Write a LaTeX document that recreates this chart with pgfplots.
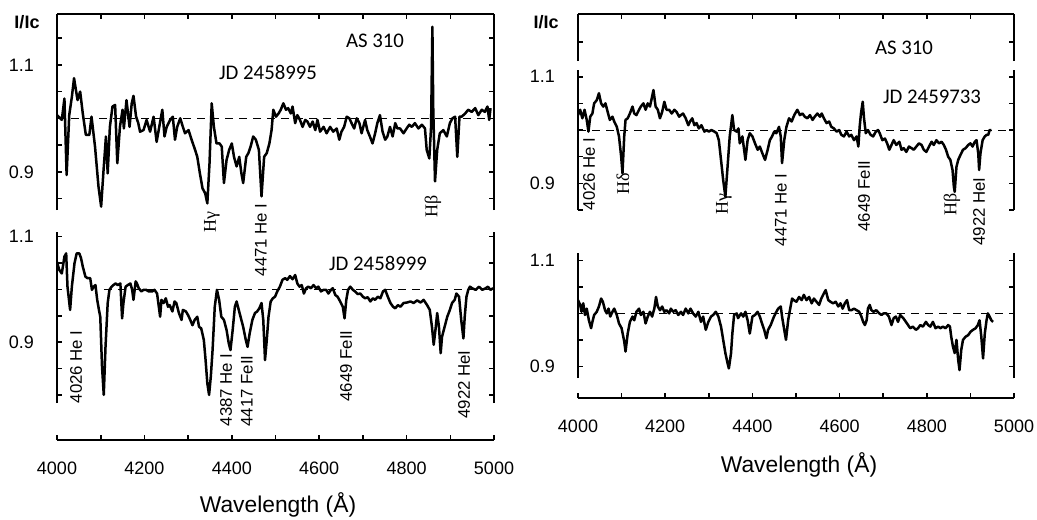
\documentclass[border=0pt]{standalone}
\usepackage{pgfplots}
\pgfplotsset{compat=1.18}
\usepackage{fontspec}
\setmainfont{Carlito}
\newfontfamily\arial{Liberation Sans}
\newfontfamily\tnr{Liberation Serif}
\begin{document}
\begin{tikzpicture}
\pgfplotsset{
 base/.style={scale only axis, xmin=4000, xmax=5000,
   axis line style={-, line width=0.9pt, black},
   tick style={black, line width=0.8pt},
   major tick length=2.6pt, minor tick length=2.6pt, tick align=inside,
   /pgf/number format/assume math mode=true, /pgf/number format/1000 sep={},
   tick label style={font=\arial\fontsize{9}{10}\selectfont},
   yticklabel style={xshift=-8pt}, yticklabel pos=left},
 spec/.style={black, line width=1.25pt, line join=round, mark=none},
 dsh/.style={black, line width=0.5pt, dash pattern=on 4pt off 3pt, mark=none},
 lw/.style={width=218.5pt},
 rw/.style={width=218pt},
}
\tikzset{
 rl/.style={rotate=90, anchor=east, inner sep=0pt, font=\arial\fontsize{8.4}{9}\selectfont},
 gr/.style={rotate=90, anchor=east, inner sep=0pt, font=\tnr\fontsize{9}{10}\selectfont},
 jd/.style={inner sep=0pt, font=\fontsize{10.4}{12}\selectfont},
}

% ---------- upper left
\begin{axis}[base, lw, at={(28.5pt,-105pt)}, anchor=south west, height=98pt,
  ymin=0.8286, ymax=1.195, axis x line*=top, axis y line*=box,
  xtick={4000,4100,...,5000}, xticklabels={},
  ytick={0.9,1.1}, minor ytick={0.85,0.95,1.0,1.05,1.15}]
\addplot[dsh] coordinates {(4000,1) (5000,1)};
\addplot[spec] table {
4000 1.006
4011 0.997
4017 1.037
4022 0.894
4028 1.006
4034 1.040
4039 1.075
4047 1.034
4053 1.050
4059 1.009
4066 0.969
4074 0.969
4079 1.003
4087 0.947
4095 0.872
4101 0.835
4106 0.897
4112 0.966
4116 0.897
4121 0.984
4127 1.022
4133 1.025
4138 0.916
4144 0.984
4150 1.016
4153 0.981
4159 1.034
4166 0.984
4171 1.028
4175 1.042
4181 1.003
4186 0.991
4190 0.975
4198 0.978
4205 0.997
4213 0.975
4221 1.003
4228 0.956
4234 0.984
4241 1.016
4246 0.966
4251 0.984
4259 0.997
4265 1.003
4270 0.960
4275 0.984
4282 1.000
4288 0.984
4293 0.972
4301 0.978
4308 0.960
4316 0.941
4321 0.928
4327 0.897
4333 0.869
4339 0.860
4344 0.841
4349 0.916
4354 1.028
4359 0.984
4365 0.953
4372 0.953
4377 0.947
4382 0.879
4388 0.922
4394 0.941
4400 0.953
4405 0.928
4411 0.910
4417 0.928
4422 0.897
4426 0.879
4433 0.928
4438 0.935
4443 0.947
4449 0.966
4455 0.960
4462 0.941
4468 0.854
4474 0.928
4480 0.935
4486 0.953
4491 0.978
4495 1.016
4501 1.003
4507 1.009
4512 1.016
4518 1.028
4524 1.016
4529 1.019
4535 1.009
4539 1.022
4545 0.991
4550 1.006
4556 0.997
4562 0.984
4568 0.997
4573 0.994
4579 0.984
4585 0.994
4591 0.978
4596 0.997
4602 0.975
4610 0.984
4617 0.972
4625 0.984
4632 0.975
4640 0.981
4646 0.960
4651 0.975
4657 0.984
4663 1.003
4669 1.000
4674 0.991
4680 0.981
4686 1.000
4692 0.991
4697 0.972
4705 0.997
4710 0.978
4716 0.966
4722 0.953
4728 0.972
4733 0.991
4739 1.006
4745 0.975
4751 0.960
4756 0.966
4762 0.984
4768 0.966
4774 0.991
4779 0.981
4785 0.981
4793 0.972
4800 0.981
4806 0.988
4812 0.984
4819 0.991
4827 0.981
4835 0.988
4842 0.981
4846 0.941
4852 0.925
4856 0.984
4859 1.171
4861 1.016
4865 0.882
4870 0.941
4876 0.972
4884 0.978
4892 0.966
4899 0.991
4905 1.000
4911 1.003
4916 0.928
4921 1.003
4926 1.003
4934 1.009
4941 1.016
4949 1.012
4957 1.019
4964 1.006
4972 1.016
4979 1.012
4985 1.022
4989 0.997
4992 1.019
};
\end{axis}

% ---------- lower left
\begin{axis}[base, lw, at={(28.5pt,-201.5pt)}, anchor=south west, height=85.5pt,
  ymin=0.7847, ymax=1.1085, axis x line=none, axis y line*=box, xtick=\empty,
  ytick={0.9,1.1}, minor ytick={0.8,0.85,0.95,1.0,1.05}]
\addplot[dsh] coordinates {(4107,1) (4995,1)};
\addplot[spec] table {
4000 1.052
4005 1.037
4011 1.030
4017 1.062
4021 1.068
4024 1.005
4030 0.961
4034 1.005
4040 1.049
4045 1.068
4051 1.068
4055 1.059
4059 1.043
4065 1.024
4070 1.021
4076 1.021
4080 0.999
4084 1.005
4088 1.008
4092 0.980
4096 0.961
4099 0.948
4103 0.854
4107 0.800
4111 0.891
4116 0.974
4120 0.999
4125 1.005
4129 1.008
4134 1.011
4139 1.008
4145 1.011
4149 0.945
4152 0.974
4157 1.005
4162 1.008
4168 1.011
4172 0.999
4175 0.980
4180 1.015
4183 1.011
4187 1.002
4193 0.996
4198 0.999
4204 0.999
4210 0.996
4218 0.996
4223 0.999
4229 0.992
4233 0.967
4236 0.948
4239 0.980
4244 0.974
4249 0.983
4254 0.967
4258 0.970
4264 0.958
4269 0.977
4273 0.974
4279 0.955
4285 0.942
4288 0.961
4295 0.958
4300 0.951
4305 0.942
4310 0.932
4315 0.942
4321 0.948
4325 0.929
4330 0.926
4336 0.904
4340 0.866
4344 0.822
4348 0.800
4352 0.835
4356 0.885
4361 0.967
4366 0.999
4371 0.980
4376 0.948
4382 0.942
4388 0.923
4393 0.898
4397 0.885
4402 0.923
4407 0.967
4411 0.977
4415 0.964
4420 0.948
4426 0.929
4432 0.904
4436 0.891
4441 0.917
4447 0.942
4453 0.955
4458 0.958
4463 0.964
4468 0.974
4472 0.942
4476 0.866
4480 0.904
4484 0.948
4489 0.977
4494 0.983
4499 0.986
4504 0.996
4510 1.005
4516 1.018
4522 1.021
4527 1.018
4533 1.025
4539 1.019
4545 1.027
4550 1.011
4555 1.005
4560 1.008
4565 0.992
4570 1.002
4575 1.005
4581 1.002
4587 1.008
4593 1.002
4598 1.005
4604 0.996
4610 0.999
4616 0.999
4621 0.992
4627 0.999
4631 1.002
4637 0.989
4642 0.986
4648 0.977
4654 0.967
4658 0.945
4662 0.980
4666 0.999
4671 1.005
4677 0.999
4682 0.996
4688 0.991
4694 0.992
4700 0.986
4705 0.983
4711 0.985
4717 0.977
4723 0.983
4728 0.980
4734 0.986
4740 0.983
4746 0.996
4751 0.999
4757 0.986
4763 0.974
4769 0.967
4774 0.964
4780 0.970
4786 0.967
4793 0.974
4801 0.975
4809 0.977
4816 0.974
4824 0.979
4832 0.975
4839 0.980
4847 0.970
4853 0.961
4858 0.929
4862 0.895
4866 0.923
4870 0.955
4874 0.929
4878 0.879
4881 0.910
4887 0.929
4893 0.948
4899 0.961
4904 0.974
4910 0.980
4914 0.992
4920 0.986
4925 0.942
4930 0.907
4933 0.948
4937 0.986
4941 0.999
4945 1.005
4950 1.002
4958 0.999
4966 1.005
4973 0.999
4981 1.002
4986 1.005
4992 0.999
4998 1.002
};
\end{axis}

% ---------- left bottom axis
\begin{axis}[base, lw, at={(28.5pt,-220pt)}, anchor=south west, height=5pt,
  ymin=0, ymax=1, axis x line*=bottom, axis y line=none, ytick=\empty,
  xtick={4000,4200,...,5000}, minor xtick={4100,4300,...,4900},
  xticklabel style={yshift=-7.5pt}]
\end{axis}

% ---------- upper right top box
\begin{axis}[base, rw, at={(289pt,-30.5pt)}, anchor=south west, height=23.5pt,
  ymin=0, ymax=1, axis x line*=top, axis y line*=box,
  xtick={4000,4100,...,5000}, xticklabels={}, ytick={0.4}, yticklabels={}]
\end{axis}

% ---------- upper right data
\begin{axis}[base, rw, at={(289pt,-105pt)}, anchor=south west, height=70pt,
  ymin=0.85, ymax=1.1126, axis x line=none, axis y line*=box, xtick=\empty,
  ytick={0.9,1.1}, minor ytick={0.85,0.95,1.0,1.05}]
\addplot[dsh] coordinates {(4000,1) (5000,1)};
\addplot[spec] table {
4000 1.028
4005 1.038
4010 1.022
4015 1.038
4020 1.019
4024 0.997
4028 1.025
4033 1.031
4037 1.050
4043 1.056
4048 1.069
4053 1.050
4058 1.044
4063 1.050
4068 1.034
4073 1.019
4079 1.025
4083 1.016
4089 1.006
4094 0.988
4099 0.950
4102 0.919
4106 0.988
4109 1.019
4114 1.022
4119 1.031
4125 1.044
4129 1.031
4134 1.028
4140 1.038
4144 1.044
4150 1.050
4155 1.038
4160 1.050
4165 1.044
4169 1.059
4173 1.075
4178 1.044
4183 1.038
4188 1.022
4193 1.034
4198 1.053
4203 1.038
4209 1.038
4215 1.031
4221 1.038
4226 1.034
4232 1.025
4236 1.028
4241 1.031
4247 1.022
4253 1.009
4257 1.016
4262 1.022
4267 1.009
4272 1.013
4277 1.003
4283 1.009
4290 0.997
4295 1.000
4300 0.997
4306 1.000
4313 0.997
4318 0.994
4323 0.981
4328 0.944
4333 0.906
4338 0.875
4343 0.931
4348 0.988
4354 1.028
4358 1.000
4364 0.997
4368 1.003
4371 0.975
4377 0.988
4381 0.963
4384 0.944
4389 0.981
4394 0.994
4400 0.988
4406 0.975
4412 0.963
4417 0.969
4423 0.956
4429 0.944
4435 0.963
4440 0.981
4445 0.988
4450 0.997
4455 0.994
4461 1.006
4465 0.988
4468 0.938
4473 0.981
4478 1.006
4484 1.022
4490 1.016
4496 1.028
4503 1.038
4509 1.028
4515 1.031
4520 1.025
4526 1.022
4532 1.028
4538 1.019
4543 1.025
4549 1.031
4555 1.025
4559 1.031
4564 1.022
4570 1.013
4576 1.016
4581 1.006
4587 1.003
4593 0.997
4599 1.000
4604 0.991
4610 0.988
4616 0.997
4622 0.988
4627 0.991
4633 0.981
4639 0.988
4643 0.969
4646 1.006
4649 1.031
4653 1.053
4656 1.022
4660 0.994
4665 1.000
4671 0.991
4677 0.988
4683 0.997
4688 1.000
4692 0.994
4698 0.981
4704 0.984
4709 0.975
4714 0.963
4719 0.972
4724 0.981
4730 0.972
4737 0.978
4742 0.963
4747 0.966
4753 0.959
4759 0.969
4765 0.966
4770 0.963
4776 0.969
4782 0.975
4788 0.972
4793 0.963
4799 0.959
4805 0.969
4811 0.978
4816 0.972
4822 0.981
4828 0.975
4834 0.978
4839 0.972
4844 0.963
4849 0.950
4854 0.944
4859 0.925
4862 0.894
4864 0.884
4868 0.931
4872 0.944
4877 0.953
4883 0.963
4889 0.966
4895 0.972
4900 0.975
4905 0.969
4910 0.978
4914 0.981
4918 0.956
4920 0.925
4923 0.956
4928 0.981
4933 0.988
4937 0.991
4941 0.991
4944 1.000
4948 1.000
};
\end{axis}

% ---------- lower right
\begin{axis}[base, rw, at={(289pt,-189pt)}, anchor=south west, height=62.5pt,
  ymin=0.878, ymax=1.114, axis x line=none, axis y line*=box, xtick=\empty,
  ytick={0.9,1.1}, minor ytick={0.95,1.0,1.05}]
\addplot[dsh] coordinates {(4090,1) (4975,1)};
\addplot[spec] table {
4000 1.025
4005 1.016
4008 1.003
4012 1.019
4016 0.997
4020 1.009
4025 0.987
4030 0.972
4033 0.984
4037 0.997
4043 1.003
4048 1.013
4053 1.028
4057 1.022
4062 1.006
4066 1.000
4070 1.009
4074 0.994
4079 1.003
4083 1.009
4089 0.997
4094 0.981
4100 0.972
4106 0.947
4109 0.928
4114 0.962
4119 0.984
4125 0.994
4129 0.987
4134 1.003
4140 1.009
4144 0.997
4150 1.003
4155 0.981
4160 0.994
4165 1.003
4170 0.994
4175 1.009
4179 1.031
4183 1.013
4188 1.006
4193 1.013
4198 1.003
4203 1.006
4209 1.000
4213 1.009
4218 1.003
4224 1.006
4230 0.997
4236 1.003
4241 0.997
4247 1.009
4253 1.000
4258 1.009
4264 1.000
4270 0.994
4276 1.003
4282 0.984
4287 0.994
4293 0.969
4299 0.984
4305 0.994
4310 0.997
4316 1.003
4322 0.994
4328 0.975
4333 0.950
4338 0.925
4343 0.906
4346 0.896
4351 0.925
4354 0.962
4358 0.997
4364 1.000
4367 0.991
4374 1.000
4379 0.994
4384 1.003
4389 0.987
4394 0.962
4400 0.994
4406 0.997
4412 1.003
4417 0.994
4422 0.981
4427 0.969
4432 0.953
4436 0.969
4442 0.978
4448 0.991
4453 1.000
4459 1.009
4465 1.013
4468 0.994
4473 0.969
4477 0.950
4482 0.987
4486 1.006
4491 1.028
4495 1.025
4501 1.022
4507 1.031
4513 1.025
4518 1.035
4524 1.025
4530 1.031
4536 1.019
4541 1.028
4547 1.022
4553 1.016
4558 1.028
4564 1.038
4568 1.044
4574 1.025
4579 1.022
4585 1.019
4591 1.022
4597 1.013
4602 1.019
4607 1.009
4612 1.019
4617 1.025
4622 1.006
4627 1.006
4633 1.009
4639 1.006
4645 1.003
4650 0.994
4654 0.984
4658 0.978
4662 0.987
4665 1.009
4669 1.016
4673 1.006
4678 1.003
4684 1.006
4691 1.000
4696 0.997
4701 1.000
4707 1.000
4713 0.994
4719 0.978
4724 0.991
4729 0.994
4734 0.984
4739 0.997
4746 0.991
4752 0.984
4757 0.978
4762 0.972
4768 0.975
4775 0.969
4780 0.972
4785 0.978
4791 0.975
4798 0.984
4803 0.978
4808 0.975
4814 0.984
4820 0.972
4826 0.975
4831 0.972
4837 0.975
4843 0.972
4849 0.978
4853 0.975
4856 0.956
4860 0.937
4864 0.925
4868 0.950
4872 0.912
4875 0.893
4879 0.931
4883 0.950
4889 0.956
4895 0.959
4900 0.965
4906 0.969
4912 0.972
4917 0.978
4921 0.987
4925 0.956
4929 0.915
4933 0.962
4937 0.987
4940 1.000
4944 0.994
4948 0.987
4952 0.984
};
\end{axis}

% ---------- right bottom axis
\begin{axis}[base, rw, at={(289pt,-199.15pt)}, anchor=south west, height=5pt,
  ymin=0, ymax=1, axis x line*=bottom, axis y line=none, ytick=\empty,
  xtick={4000,4200,...,5000}, minor xtick={4100,4300,...,4900},
  xticklabel style={yshift=-7.5pt}]
\end{axis}

% ---------- annotations (pixel coordinates of the reference)
\begin{scope}[x=0.5pt, y=-0.5pt]
\node[inner sep=0pt, font=\arial\bfseries\fontsize{9}{10}\selectfont] at (27,22) {I/Ic};
\node[inner sep=0pt, font=\arial\bfseries\fontsize{9}{10}\selectfont] at (546,22) {I/Ic};
\node[jd] at (375,41) {AS 310};
\node[jd] at (904,48) {AS 310};
\node[jd] at (268,72) {JD 2458995};
\node[jd] at (378,263) {JD 2458999};
\node[jd] at (932,97) {JD 2459733};
\node[inner sep=0pt, font=\arial\fontsize{11.4}{13}\selectfont] at (278,505) {Wavelength (Å)};
\node[inner sep=0pt, font=\arial\fontsize{11.4}{13}\selectfont] at (799,465) {Wavelength (Å)};
% left panel line labels
\node[gr] at (212,211) {Hγ};
\node[rl] at (261,203) {4471 He I};
\node[gr] at (433,195) {Hβ};
\node[rl] at (76,330) {4026 He I};
\node[rl] at (226,353) {4387 He I};
\node[rl] at (247,355) {4417 FeII};
\node[rl] at (346,330) {4649 FeII};
\node[rl] at (464,350) {4922 HeI};
% right panel line labels
\node[rl] at (589,137) {4026 He I};
\node[gr] at (623,173) {Hδ};
\node[gr] at (724,193) {Hγ};
\node[rl] at (781,173) {4471 He I};
\node[rl] at (864,160) {4649 FeII};
\node[gr] at (952,193) {Hβ};
\node[rl] at (979,177) {4922 HeI};
\end{scope}
\pgfresetboundingbox
\path[use as bounding box] (0,0) rectangle (518.5pt,-259.5pt);
\end{tikzpicture}
\end{document}
